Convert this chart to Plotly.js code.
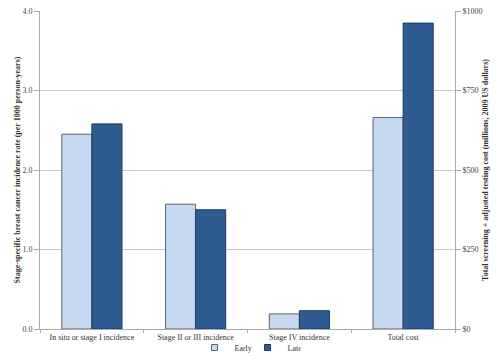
<!DOCTYPE html>
<html><head><meta charset="utf-8">
<script src="https://cdn.plot.ly/plotly-3.0.1.min.js"></script>
<style>body{margin:0;background:#fff}#c{width:500px;height:362px}</style>
</head><body><div id="c"></div>
<script>
const categories = ["In situ or stage I incidence", "Stage II or III incidence", "Stage IV incidence", "Total cost"];
const incidenceCats = ["In situ or stage I incidence", "Stage II or III incidence", "Stage IV incidence"];
const earlyIncidence = [2.45, 1.57, 0.19];
const lateIncidence = [2.58, 1.50, 0.23];
const costCats = ["Total cost"];
const earlyCost = [665];
const lateCost = [962];
const leftTicks = [0, 1, 2, 3, 4];
const rightTicks = [0, 250, 500, 750, 1000];
const seriesNames = ["Early", "Late"];

const earlyColor = "#c6d9f1", lateColor = "#2e5c91";
const earlyLine = "#5a6570", lateLine = "#1d3a5e";
const w = 0.29;
const font = {family: "Liberation Serif, Times New Roman, serif", color: "#333", size: 8};

const data = [
  {type: "bar", name: seriesNames[0], x: incidenceCats, y: earlyIncidence, width: w, offset: -w,
   marker: {color: earlyColor, line: {color: earlyLine, width: 1}}, showlegend: false},
  {type: "bar", name: seriesNames[1], x: incidenceCats, y: lateIncidence, width: w, offset: 0,
   marker: {color: lateColor, line: {color: lateLine, width: 1}}, showlegend: false},
  {type: "bar", name: seriesNames[0], x: costCats, y: earlyCost, yaxis: "y2", width: w, offset: -w,
   marker: {color: earlyColor, line: {color: earlyLine, width: 1}}, showlegend: false},
  {type: "bar", name: seriesNames[1], x: costCats, y: lateCost, yaxis: "y2", width: w, offset: 0,
   marker: {color: lateColor, line: {color: lateLine, width: 1}}, showlegend: false},
  // legend-only entries with small square swatches
  {type: "scatter", mode: "markers", name: seriesNames[0], x: [null], y: [null],
   marker: {symbol: "square", size: 6, color: earlyColor, line: {color: earlyLine, width: 1}}},
  {type: "scatter", mode: "markers", name: seriesNames[1], x: [null], y: [null],
   marker: {symbol: "square", size: 6, color: lateColor, line: {color: lateLine, width: 1}}}
];

const layout = {
  width: 500, height: 362,
  margin: {l: 40, r: 45, t: 11, b: 33},
  paper_bgcolor: "#fff", plot_bgcolor: "#fff",
  font: font,
  barmode: "overlay",
  showlegend: true,
  legend: {orientation: "h", x: 0.5, xanchor: "center", xref: "paper",
           y: 0.0, yanchor: "bottom", yref: "container",
           entrywidth: 8, entrywidthmode: "pixels",
           font: {family: font.family, size: 8, color: "#333"}, itemwidth: 30, traceorder: "normal",
           tracegroupgap: 0, bgcolor: "rgba(0,0,0,0)", itemsizing: "trace"},
  xaxis: {type: "category", categoryorder: "array", categoryarray: categories,
          showline: true, linecolor: "#aaa", linewidth: 1, ticks: "outside", tickson: "boundaries",
          ticklen: 3, tickcolor: "#aaa", showgrid: false, tickfont: {size: 8, color: "#333"}},
  yaxis: {range: [0, 4], tickvals: leftTicks, tickformat: ".1f", showline: true, linecolor: "#aaa",
          ticks: "outside", ticklen: 5, tickcolor: "#aaa", gridcolor: "#c8c8c8", zeroline: false,
          tickfont: {size: 8, color: "#444"}, automargin: false,
          title: {text: "<b>Stage-specific breast cancer incidence rate (per 1000 person-years)</b>",
                  font: {size: 8, color: "#333"}, standoff: 0}},
  yaxis2: {overlaying: "y", side: "right", range: [0, 1000], tickvals: rightTicks,
           ticktext: rightTicks.map(v => "$" + v), showline: true, linecolor: "#aaa",
           ticks: "outside", ticklen: 5, tickcolor: "#aaa", showgrid: false, zeroline: false,
           tickfont: {size: 8, color: "#444"}, automargin: false,
           title: {text: "<b>Total screening + adjusted testing cost (millions, 2009 US dollars)</b>",
                   font: {size: 8, color: "#333"}, standoff: 0}}
};
Plotly.newPlot("c", data, layout, {displayModeBar: false, staticPlot: true});
</script></body></html>
